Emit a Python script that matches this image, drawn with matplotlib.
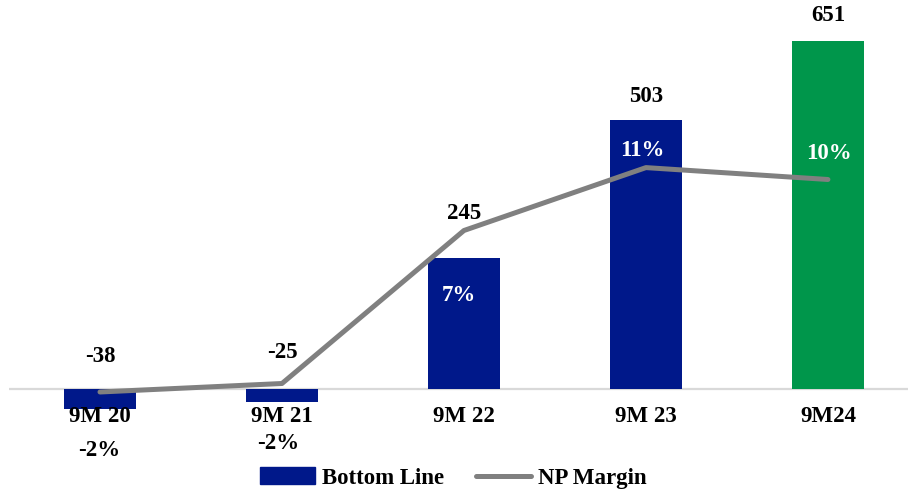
import matplotlib.pyplot as plt
from matplotlib.patches import Patch
from matplotlib.lines import Line2D

plt.rcParams['font.family'] = ['Liberation Serif', 'DejaVu Serif']
plt.rcParams['font.weight'] = 'bold'

periods = ['9M 20', '9M 21', '9M 22', '9M 23', '9M24']
bottom_line = [-38, -25, 245, 503, 651]
np_margin = [-2.4, -1.9, 7.1, 10.8, 10.1]  # %

navy = '#00188a'
green = '#00964b'
grey = '#808080'
bar_colors = [navy, navy, navy, navy, green]

W, H = 908, 493
fig = plt.figure(figsize=(W / 100, H / 100), dpi=100)
ax = fig.add_axes([9 / W, 0, 1 - 9 / W, 1])
ax2 = ax.twinx()

x = list(range(len(periods)))
ax.bar(x, bottom_line, width=0.4, color=bar_colors, zorder=2)
ax.axhline(0, color='#d9d9d9', lw=1.6, zorder=1)
ax2.plot(x, np_margin, color=grey, lw=3.6, solid_capstyle='round',
         solid_joinstyle='round', zorder=3)

# scales: ~0.535 px per unit for the bars, 17 px per % for the margin line
ax.set_xlim(-0.5, 4.44)
ax.set_ylim(-(H - 389) / 0.5346, 389 / 0.5346)
ax2.set_ylim(-(H - 351.2) / 17, 351.2 / 17)
for a in (ax, ax2):
    a.axis('off')

fs = 16.5
# category names under the baseline
for i, name in enumerate(periods):
    ax.annotate(name, (i, 0), xytext=(0, -28), textcoords='offset pixels',
                ha='center', va='center', fontsize=fs, fontweight='bold')

# bottom line values
value_dy = [33, 37, 45, 24, 25]
for i, v in enumerate(bottom_line):
    ax.annotate(f'{v}', (i, max(v, 0)), xytext=(0, value_dy[i]),
                textcoords='offset pixels', ha='center', va='center',
                fontsize=fs, fontweight='bold', color='black')

# margin labels
margin_offsets = [(-1, -58), (-4, -60), (-5, -65), (-4, 17), (1, 26)]
margin_colors = ['black', 'black', 'white', 'white', 'white']
for i, m in enumerate(np_margin):
    dx, dy = margin_offsets[i]
    ax2.annotate(f'{m:.0f}%', (i, m), xytext=(dx, dy),
                 textcoords='offset pixels', ha='center', va='center',
                 fontsize=fs, fontweight='bold', color=margin_colors[i],
                 zorder=5)

handles = [Patch(color=navy), Line2D([], [], color=grey, lw=3.6,
                                     solid_capstyle='round')]
fig.legend(handles, ['Bottom Line', 'NP Margin'], loc='center',
           bbox_to_anchor=(453 / W, 1 - 478 / H), ncol=2, frameon=False,
           handlelength=2.4, handletextpad=0.3, columnspacing=1.4,
           prop={'weight': 'bold', 'size': fs})

fig.savefig('out.png', dpi=100)
